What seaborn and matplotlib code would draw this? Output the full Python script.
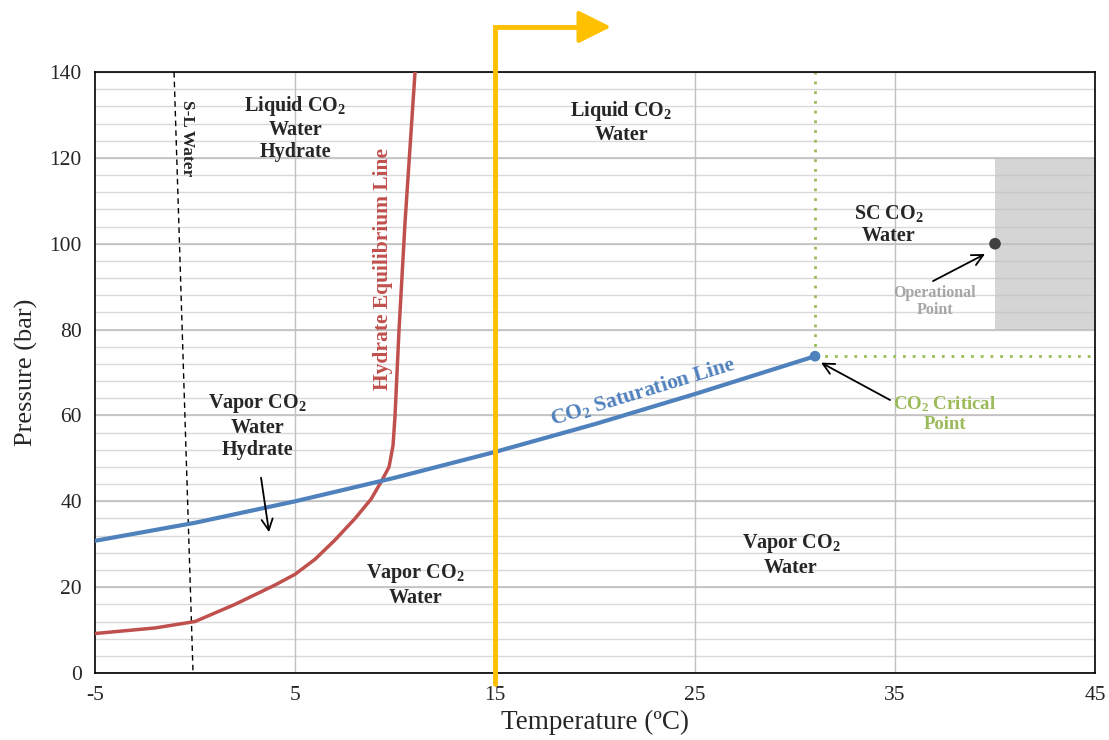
import numpy as np
import pandas as pd
import matplotlib
matplotlib.use("Agg")
import matplotlib.pyplot as plt
from matplotlib.patches import Rectangle
import seaborn as sns

# --- data ---
hyd_T = [-5, -2, 0, 2, 4, 5, 6, 7, 8, 8.8, 9.3, 9.7, 9.9, 10.0, 10.2, 10.5, 11.0]
hyd_P = [9.2, 10.5, 12.0, 16.0, 20.5, 23.0, 26.5, 31.0, 36.0, 40.5, 44.5, 48.0, 53.0, 60.0, 80.0, 105.0, 140.0]

sat_T = [-5, 0, 5, 10, 15, 20, 25, 31]
sat_P = [30.8, 35.0, 40.0, 45.5, 51.5, 58.0, 65.0, 73.8]

sl_T = [-1.05, -0.1]
sl_P = [140, 0]

crit_T, crit_P = 31, 73.8
op_T, op_P = 40, 100
op_box = (40, 80, 45, 120)  # T0, P0, T1, P1
x_ticks = [-5, 5, 15, 25, 35, 45]
y_ticks = [0, 20, 40, 60, 80, 100, 120, 140]

sns.set_style("white")
plt.rcParams['font.family'] = ['Liberation Serif', 'DejaVu Serif']
plt.rcParams['axes.unicode_minus'] = False
plt.rcParams['mathtext.fontset'] = 'custom'
plt.rcParams['mathtext.rm'] = 'Liberation Serif:bold'
plt.rcParams['mathtext.it'] = 'Liberation Serif:bold'
plt.rcParams['mathtext.bf'] = 'Liberation Serif:bold'

fig = plt.figure(figsize=(11.09, 7.4), dpi=100)
ax = fig.add_axes([0.0857, 0.0905, 0.9017, 0.8122])

# grid
for p in np.arange(0, 141, 4):
    ax.axhline(p, color='#d9d9d9', lw=1.0, zorder=0)
for p in y_ticks:
    ax.axhline(p, color='#c0c0c0', lw=1.2, zorder=0)
for t in [5, 15, 25, 35]:
    ax.axvline(t, color='#c0c0c0', lw=1.0, zorder=0)

# operational region
ax.add_patch(Rectangle((op_box[0], op_box[1]), op_box[2] - op_box[0], op_box[3] - op_box[1],
                       facecolor='#bfbfbf', alpha=0.65, edgecolor='none', zorder=1))

# curves
df_h = pd.DataFrame({'T': hyd_T, 'P': hyd_P})
df_s = pd.DataFrame({'T': sat_T, 'P': sat_P})
sns.lineplot(data=df_h, x='T', y='P', ax=ax, color='#c0504d', lw=2.5, sort=False, zorder=3)
sns.lineplot(data=df_s, x='T', y='P', ax=ax, color='#4f81bd', lw=3, sort=False, zorder=3)
ax.plot(sl_T, sl_P, color='black', lw=1.0, ls=(0, (4, 3)), zorder=2)

# critical point guides
green = '#9bbb59'
ax.plot([crit_T, crit_T], [crit_P, 140], color=green, lw=2, ls=(0, (1, 2.5)), zorder=2)
ax.plot([crit_T, 45], [crit_P, crit_P], color=green, lw=2, ls=(0, (1, 2.5)), zorder=2)

sns.scatterplot(x=[crit_T], y=[crit_P], ax=ax, color='#4f81bd', s=60, edgecolor='none', zorder=4)
sns.scatterplot(x=[op_T], y=[op_P], ax=ax, color='#404040', s=70, edgecolor='none', zorder=4)

# yellow arrow at 15 C
yellow = '#ffc000'
ax.plot([15, 15, 19.8], [-2.5, 150.5, 150.5], color=yellow, lw=3.5, clip_on=False, zorder=5,
        solid_joinstyle='miter')
ax.annotate('', xy=(20.8, 150.5), xytext=(19.3, 150.5), annotation_clip=False,
            arrowprops=dict(arrowstyle='-|>,head_length=0.8,head_width=0.4', color=yellow,
                            lw=3, mutation_scale=25, shrinkA=0, shrinkB=0))

ax.set_xlim(-5, 45)
ax.set_ylim(0, 140)
ax.set_xticks(x_ticks)
ax.set_xticks([0, 10, 20, 30, 40], minor=True)
ax.set_yticks(y_ticks)
ax.tick_params(axis='both', which='both', direction='out', length=6, width=1, labelsize=15.5)
ax.tick_params(axis='x', pad=3)
for s in ax.spines.values():
    s.set_color('black')
    s.set_linewidth(1.2)
ax.set_xlabel('Temperature (ºC)', fontsize=19.5, labelpad=4)
ax.set_ylabel('Pressure (bar)', fontsize=19, labelpad=8)

# region labels
kw = dict(ha='center', va='center', fontsize=14.5, fontweight='bold', linespacing=1.15, zorder=6)
ax.text(5, 127, 'Liquid CO$_2$\nWater\nHydrate', **kw)
ax.text(21.3, 128.3, 'Liquid CO$_2$\nWater', **kw)
ax.text(34.7, 104.5, 'SC CO$_2$\nWater', **kw)
ax.text(3.1, 57.5, 'Vapor CO$_2$\nWater\nHydrate', **kw)
ax.text(11, 20.5, 'Vapor CO$_2$\nWater', **kw)
ax.text(29.8, 27.5, 'Vapor CO$_2$\nWater', **kw)
ax.text(-0.4, 124.5, 'S-L Water', rotation=-90, ha='center', va='center', fontsize=12.5,
        fontweight='bold', zorder=6)
ax.text(9.4, 94, 'Hydrate Equilibrium Line', rotation=90, ha='center', va='center',
        fontsize=15.5, fontweight='bold', color='#c0504d', zorder=6)
ax.text(22.4, 65.5, 'CO$_2$ Saturation Line', rotation=17, ha='center', va='center',
        fontsize=15.5, fontweight='bold', color='#4f81bd', zorder=6)

ax.text(37.5, 60.5, 'CO$_2$ Critical\nPoint', ha='center', va='center',
        fontsize=13.5, fontweight='bold', color=green, linespacing=1.15, zorder=6)
ax.text(37.0, 86.5, 'Operational\nPoint', ha='center', va='center',
        fontsize=11.5, fontweight='bold', color='#a6a6a6', linespacing=1.1, zorder=6)

arw = dict(arrowstyle='->', color='black', lw=1.3, mutation_scale=20, shrinkA=0, shrinkB=0)
ax.annotate('', xy=(31.3, 72.3), xytext=(34.75, 63.6), arrowprops=arw)
ax.annotate('', xy=(39.5, 97.6), xytext=(36.9, 91.3), arrowprops=arw)
ax.annotate('', xy=(3.7, 32.8), xytext=(3.3, 45.5), arrowprops=arw)

fig.savefig('out.png', dpi=100)
